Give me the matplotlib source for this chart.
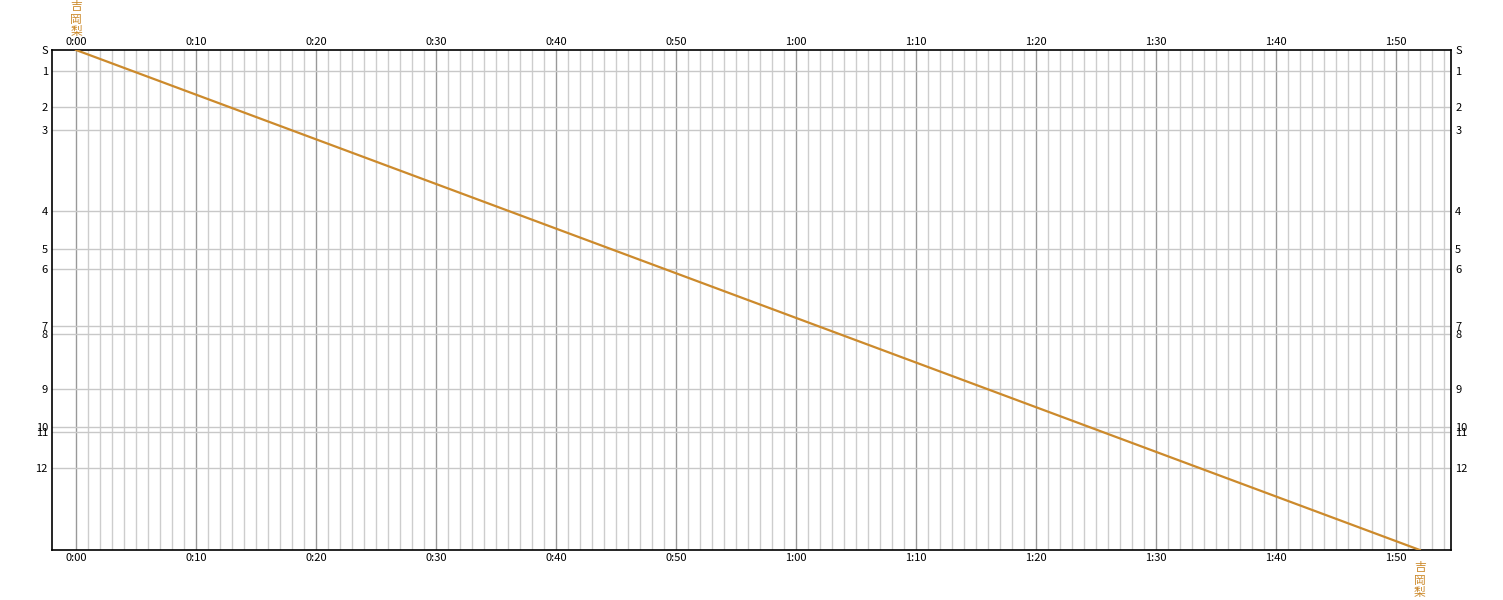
import matplotlib.pyplot as plt

plt.rcParams['font.family'] = ['Noto Sans CJK JP', 'DejaVu Sans']

# 駅の位置(起点からの距離, 相対値)とラベル
station_labels = ['S', '1', '2', '3', '4', '5', '6', '7', '8', '9', '10', '11', '12', '']
station_pos = [0, 21, 57, 80, 161, 199, 219, 276, 284, 339, 377, 382, 418, 500]

# 列車の時刻(分)と位置
train_time = [0, 112]
train_pos = [0, 500]
train_name = '吉岡梨'

time_ticks = list(range(0, 111, 10))
time_labels = ['%d:%02d' % (t // 60, t % 60) for t in time_ticks]

line_color = '#cc8a2c'

fig = plt.figure(figsize=(15.03, 6.0), dpi=100)
ax = fig.add_axes([52 / 1503, 50 / 600, (1451 - 52) / 1503, 500 / 600])

ax.set_xlim(-2, 114.6)
ax.set_ylim(500, 0)

# 1分ごとの細い格子, 10分ごとの濃い格子
for m in range(0, 115):
    c = '#999999' if m % 10 == 0 else '#cdcdcd'
    ax.axvline(m, color=c, lw=1, zorder=1)
for p in station_pos[1:-1]:
    ax.axhline(p, color='#c8c8c8', lw=1, zorder=1)

ax.plot(train_time, train_pos, color=line_color, lw=1.6, zorder=3)

ax.set_xticks(time_ticks)
ax.set_xticklabels(time_labels)
ax.set_yticks(station_pos[:-1])
ax.set_yticklabels(station_labels[:-1])
ax.tick_params(axis='x', top=True, labeltop=True, bottom=True, labelbottom=True,
               length=0, labelsize=8, pad=2)
ax.tick_params(axis='y', left=True, right=True, labelleft=True, labelright=True,
               length=0, labelsize=8, pad=3)
for s in ax.spines.values():
    s.set_color('black')
    s.set_linewidth(1.2)

# 始発・終着の駅名(縦書き)
vname = '\n'.join(train_name)
ax.text(train_time[0], -12, vname, color=line_color, fontsize=8.5, ha='center', va='bottom',
        linespacing=0.95, clip_on=False)
ax.text(train_time[1], 511, vname, color=line_color, fontsize=8.5, ha='center', va='top',
        linespacing=0.95, clip_on=False)

fig.savefig('out.png', dpi=100)
